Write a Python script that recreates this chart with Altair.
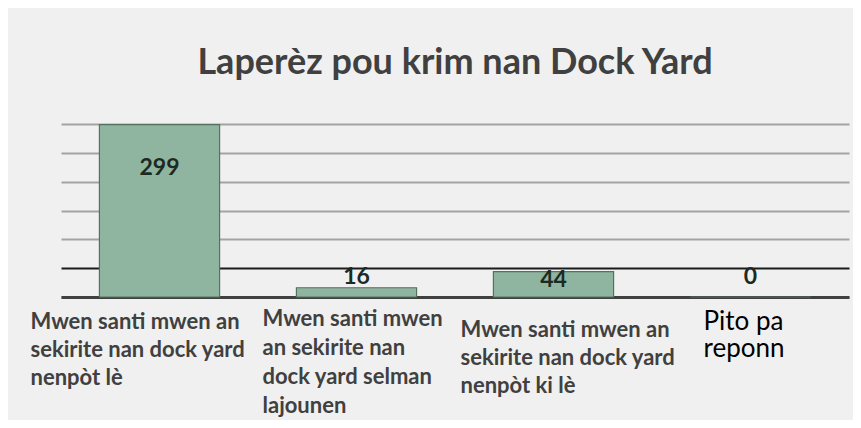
import altair as alt
import pandas as pd

# ---- data ----
categories = [
    "Mwen santi mwen an sekirite nan dock yard nenpòt lè",
    "Mwen santi mwen an sekirite nan dock yard selman lajounen",
    "Mwen santi mwen an sekirite nan dock yard nenpòt ki  lè",
    "Pito pa reponn",
]
label_lines = [
    ["Mwen santi mwen an", "sekirite nan dock yard", "nenpòt lè"],
    ["Mwen santi mwen", "an sekirite nan", "dock yard selman", "lajounen"],
    ["Mwen santi mwen an", "sekirite nan dock yard", "nenpòt ki  lè"],
    ["Pito pa", "reponn"],
]
values = [299, 16, 44, 0]
grid_values = [0, 50, 100, 150, 200, 250, 300]
title_text = "Laperèz pou krim nan Dock Yard"

df = pd.DataFrame({"cat": categories, "value": values, "label": [str(v) for v in values]})

# ---- styles (offsets in px relative to the mark anchor) ----
value_dy = [43, -11, 8, -20]
cat_style = [
    dict(dx=-129, dy=15, size=22, weight="bold", color="#404040", lh=28),
    dict(dx=-94, dy=12, size=22, weight="bold", color="#404040", lh=29),
    dict(dx=-93, dy=23, size=22, weight="bold", color="#404040", lh=28),
    dict(dx=-47, dy=12, size=26, weight="normal", color="#000000", lh=27),
]

FONT = "Lato"
W, H = 788, 173

x_enc = alt.X("cat:N", sort=categories,
              scale=alt.Scale(paddingInner=0.39, paddingOuter=0.195),
              axis=alt.Axis(labels=False, ticks=False, title=None,
                            domainColor="#404040", domainWidth=3))
y_scale = alt.Scale(domain=[0, 300], nice=False)
y_axis = alt.Axis(values=grid_values, labels=False, ticks=False,
                  domain=False, title=None, grid=True,
                  gridColor={"condition": {"test": "datum.value === 50", "value": "#1a1a1a"},
                             "value": "#a3a3a3"},
                  gridWidth=2)

bars = alt.Chart(df).mark_bar(
    fill="#8fb5a0", stroke="#55725f", strokeWidth=1.2
).encode(
    x=x_enc,
    y=alt.Y("value:Q", scale=y_scale, axis=y_axis),
)

layers = [bars]

for i, cat in enumerate(categories):
    sub = df[df["cat"] == cat]
    layers.append(
        alt.Chart(sub).mark_text(
            font=FONT, fontSize=23, fontWeight="bold", color="#1d2a22",
            baseline="middle", align="center", dy=value_dy[i]
        ).encode(x=x_enc, y=alt.Y("value:Q", scale=y_scale, axis=y_axis), text="label:N")
    )
    st = cat_style[i]
    cdf = pd.DataFrame({"cat": [cat], "txt": [label_lines[i]], "zero": [0]})
    layers.append(
        alt.Chart(cdf).mark_text(
            font=FONT, fontSize=st["size"], fontWeight=st["weight"], color=st["color"],
            align="left", baseline="top", dx=st["dx"], dy=st["dy"], lineHeight=st["lh"]
        ).encode(x=x_enc, y=alt.Y("zero:Q", scale=y_scale, axis=y_axis), text="txt")
    )

chart = alt.layer(*layers).properties(
    width=W, height=H,
    title=alt.TitleParams(title_text, font=FONT, fontSize=36, fontWeight="bold",
                          color="#404040", anchor="middle", offset=42),
    autosize=alt.AutoSizeParams(type="none"),
    padding={"left": 53, "top": 116, "right": 4, "bottom": 123},
    background="#f0f0f0",
).configure_view(stroke=None).configure_axis(gridOpacity=1)

chart.save("out.html", embed_options={"renderer": "svg", "actions": False})
